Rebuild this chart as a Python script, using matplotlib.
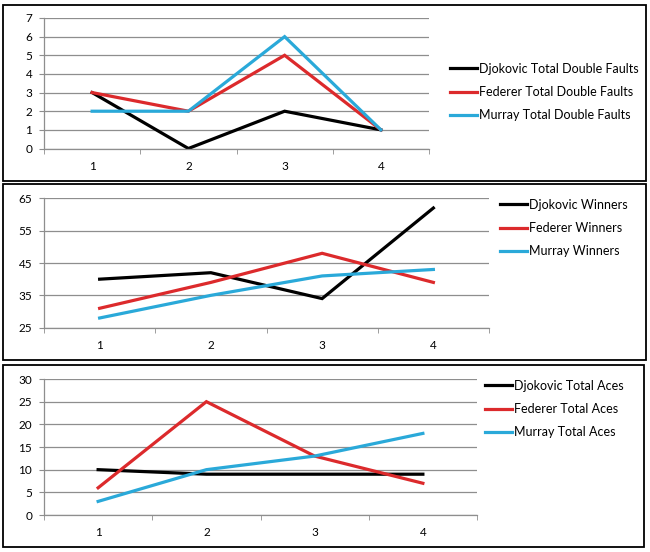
import matplotlib
matplotlib.use("Agg")
import matplotlib.pyplot as plt
from matplotlib.patches import Rectangle
from matplotlib.ticker import FixedLocator

plt.rcParams['font.family'] = ['Lato', 'DejaVu Sans']

matches = [1, 2, 3, 4]

djokovic_df = [3, 0, 2, 1]
federer_df = [3, 2, 5, 1]
murray_df = [2, 2, 6, 1]

djokovic_win = [40, 42, 34, 62]
federer_win = [31, 39, 48, 39]
murray_win = [28, 35, 41, 43]

djokovic_aces = [10, 9, 9, 9]
federer_aces = [6, 25, 13, 7]
murray_aces = [3, 10, 13, 18]

COLORS = ['#000000', '#dc2a2c', '#2aa9d9']
GRID = '#8e8e8e'

W, H = 650, 552
fig = plt.figure(figsize=(W / 100, H / 100), dpi=100)


def px_axes(left, right, top, bottom):
    return fig.add_axes([left / W, 1 - bottom / H, (right - left) / W, (bottom - top) / H])


def frame(x0, y0, x1, y1):
    fig.add_artist(Rectangle((x0 / W, 1 - y1 / H), (x1 - x0) / W, (y1 - y0) / H,
                             transform=fig.transFigure, fill=False, ec='black', lw=1.3))


def panel(box, plot, legend_at, series, labels, ylim, ystep):
    frame(*box)
    ax = px_axes(*plot)
    for vals, lab, col in zip(series, labels, COLORS):
        ax.plot(matches, vals, color=col, lw=2.3, label=lab, solid_joinstyle='miter')
    ax.set_xlim(0.5, 4.5)
    ax.set_ylim(*ylim)
    ax.set_yticks(range(ylim[0], ylim[1] + 1, ystep))
    ax.set_xticks(matches)
    ax.xaxis.set_minor_locator(FixedLocator([0.5, 1.5, 2.5, 3.5, 4.5]))
    ax.tick_params(axis='x', which='major', length=0, pad=9, labelsize=8.5)
    ax.tick_params(axis='x', which='minor', length=3.5, color=GRID, direction='out')
    ax.tick_params(axis='y', length=3.5, color=GRID, pad=5, labelsize=8.5)
    ax.grid(axis='y', color=GRID, lw=0.9)
    ax.set_axisbelow(True)
    for s in ['top', 'right']:
        ax.spines[s].set_visible(False)
    for s in ['left', 'bottom']:
        ax.spines[s].set_color(GRID)
        ax.spines[s].set_linewidth(0.9)
    lx, ly = legend_at
    ax.legend(loc='center left', bbox_to_anchor=(lx / W, 1 - ly / H),
              bbox_transform=fig.transFigure, frameon=False, fontsize=9,
              handlelength=2.15, handletextpad=0.15, labelspacing=0.9,
              borderpad=0, borderaxespad=0)
    return ax


panel((3, 5, 646, 181), (44, 429, 18, 148.5), (450, 92),
      [djokovic_df, federer_df, murray_df],
      ['Djokovic Total Double Faults', 'Federer Total Double Faults', 'Murray Total Double Faults'],
      (0, 7), 1)

panel((3, 184, 646, 360), (44, 489, 198.3, 327.7), (500, 228),
      [djokovic_win, federer_win, murray_win],
      ['Djokovic Winners', 'Federer Winners', 'Murray Winners'],
      (25, 65), 10)

panel((3, 365, 644, 547), (44, 477, 379, 515), (485, 409),
      [djokovic_aces, federer_aces, murray_aces],
      ['Djokovic Total Aces', 'Federer Total Aces', 'Murray Total Aces'],
      (0, 30), 5)

fig.savefig('out.png', dpi=100)
